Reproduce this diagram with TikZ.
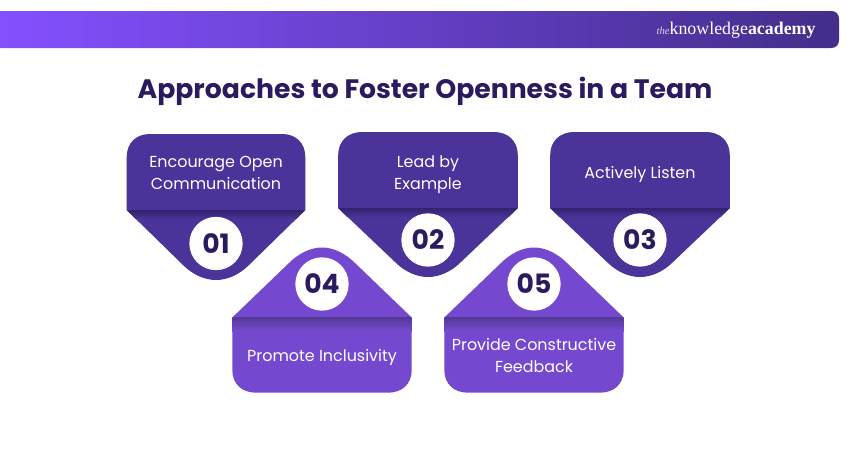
\documentclass[tikz,border=0pt]{standalone}
\usepackage{fontspec}
\setmainfont{Poppins}
\newfontfamily\logofont{Liberation Serif}
\definecolor{bandleft}{HTML}{8450FF}
\definecolor{bandmid}{HTML}{5F3FBC}
\definecolor{bandright}{HTML}{432E8A}
\definecolor{inkdark}{HTML}{2A1A5E}
\definecolor{boxdark}{HTML}{4A3399}
\definecolor{seamdark}{HTML}{33236E}
\definecolor{boxlight}{HTML}{7549CF}
\definecolor{seamlight}{HTML}{553A96}
\tikzset{every picture/.style={line width=0.75pt}}
\tikzset{
  darkbox/.style={fill=boxdark,draw=none},
  lightbox/.style={fill=boxlight,draw=none},
  numdisc/.style={circle,fill=white,minimum size=40pt,inner sep=0pt,font=\fontsize{20}{24}\selectfont\bfseries,text=inkdark},
  boxtext/.style={align=center,text=white,inner sep=0.75pt,font=\fontsize{11.95}{16.5}\selectfont}
}

\begin{document}
\begin{tikzpicture}[x=0.75pt,y=0.75pt,yscale=-1,xscale=1]
\useasboundingbox (0,0) rectangle (850,450);

%Top band
\shade [left color=bandleft,middle color=bandmid,right color=bandright]  (0,11) -- (831,11) .. controls (836,11) and (839,14) .. (839,19) -- (839,40) .. controls (839,45) and (836,48) .. (831,48) -- (0,48) -- cycle ;

%Box 01
\draw [darkbox]  (126.7,210) -- (126.7,157) .. controls (126.7,143) and (136,134) .. (150,134) -- (282,134) .. controls (296,134) and (305.3,143) .. (305.3,157) -- (305.3,210) -- (249,265) .. controls (239,275) and (227,280) .. (216,280) .. controls (205,280) and (193,275) .. (183,265) -- cycle ;
\shade [top color=seamdark,bottom color=boxdark]  (126.7,210) -- (305.3,210) -- (296.3,219) -- (135.7,219) -- cycle ;
%Box 02
\draw [darkbox]  (338.2,208) -- (338.2,155) .. controls (338.2,141) and (348,132) .. (362,132) -- (494,132) .. controls (508,132) and (517.8,141) .. (517.8,155) -- (517.8,208) -- (461,262) .. controls (451,272) and (439,277) .. (428,277) .. controls (417,277) and (405,272) .. (395,262) -- cycle ;
\shade [top color=seamdark,bottom color=boxdark]  (338.2,208) -- (517.8,208) -- (508.8,217) -- (347.2,217) -- cycle ;
%Box 03
\draw [darkbox]  (550.2,208) -- (550.2,155) .. controls (550.2,141) and (560,132) .. (574,132) -- (706,132) .. controls (720,132) and (729.8,141) .. (729.8,155) -- (729.8,208) -- (673,262) .. controls (663,272) and (651,277) .. (640,277) .. controls (629,277) and (617,272) .. (607,262) -- cycle ;
\shade [top color=seamdark,bottom color=boxdark]  (550.2,208) -- (729.8,208) -- (720.8,217) -- (559.2,217) -- cycle ;
%Box 04
\draw [lightbox]  (232.3,317.5) -- (232.3,370) .. controls (232.3,384) and (242,392.7) .. (256,392.7) -- (388,392.7) .. controls (402,392.7) and (411.7,384) .. (411.7,370) -- (411.7,317.5) -- (355,263) .. controls (345,253) and (333,247.5) .. (322,247.5) .. controls (311,247.5) and (299,253) .. (289,263) -- cycle ;
\shade [top color=seamlight,bottom color=boxlight]  (232.3,317.5) rectangle (411.7,331) ;
%Box 05
\draw [lightbox]  (444.3,317.5) -- (444.3,370) .. controls (444.3,384) and (454,392.7) .. (468,392.7) -- (600,392.7) .. controls (614,392.7) and (623.7,384) .. (623.7,370) -- (623.7,317.5) -- (567,263) .. controls (557,253) and (545,247.5) .. (534,247.5) .. controls (523,247.5) and (511,253) .. (501,263) -- cycle ;
\shade [top color=seamlight,bottom color=boxlight]  (444.3,317.5) rectangle (623.7,331) ;

% Text Node
\node (title) [inner sep=0.75pt,text=inkdark,font=\fontsize{20}{24}\selectfont\bfseries] at (425,91) {Approaches to Foster Openness in a Team};
% Text Node
\node (logo) [anchor=east,inner sep=0.75pt,text=white,font=\logofont\fontsize{13.4}{16}\selectfont] at (817,30) {{\fontsize{8}{10}\selectfont\itshape\color{white!75!bandmid}the}knowledge\textbf{academy}};

% Text Node
\node (text1) [boxtext] at (216,172.5) {Encourage Open\\Communication};
% Text Node
\node (text2) [boxtext] at (428,175) {Lead by\\Example};
% Text Node
\node (text3) [boxtext] at (640,174.5) {Actively Listen};
% Text Node
\node (text4) [boxtext] at (322,357.5) {Promote Inclusivity};
% Text Node
\node (text5) [boxtext] at (534,355.5) {Provide Constructive\\Feedback};

% Text Node
\node (num1) [numdisc] at (216,243.5) {01};
% Text Node
\node (num2) [numdisc] at (428,240) {02};
% Text Node
\node (num3) [numdisc] at (640,240) {03};
% Text Node
\node (num4) [numdisc] at (322,284) {04};
% Text Node
\node (num5) [numdisc] at (534,284) {05};

\end{tikzpicture}
\end{document}
